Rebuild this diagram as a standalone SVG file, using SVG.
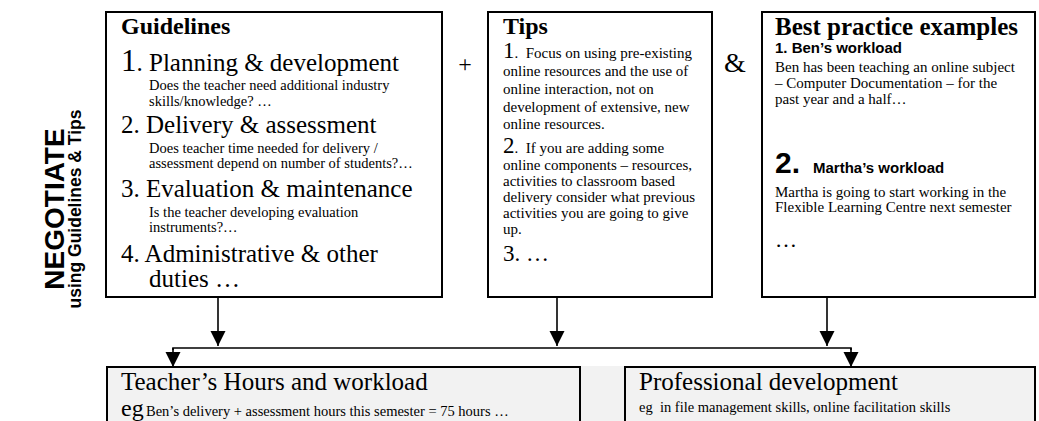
<svg xmlns="http://www.w3.org/2000/svg" width="1039" height="421" viewBox="0 0 1039 421">
<defs>
<style>
.box{fill:#ffffff;stroke:#000000;stroke-width:2}
.gbox{fill:#f2f2f2;stroke:#000000;stroke-width:2}
.serif{font-family:"Liberation Serif","Times New Roman",serif;fill:#000000}
.sans{font-family:"Liberation Sans",Arial,sans-serif;fill:#000000;font-weight:bold}
.title{font-size:24px;font-weight:bold}
.big{font-size:25px}
.sub{font-size:14.5px}
.body{font-size:15px}
.conn{fill:none;stroke:#000000;stroke-width:1.6}
</style>
<marker id="ah" markerWidth="15" markerHeight="16" refX="15" refY="8" orient="auto" markerUnits="userSpaceOnUse">
<path d="M0,0.5 L15,8 L0,15.5 Z" fill="#000000"/>
</marker>
</defs>
<rect width="1039" height="421" fill="#ffffff"/>

<g id="label">
<text class="sans" font-size="28" text-anchor="middle" transform="translate(64,209) rotate(-90)">NEGOTIATE</text>
<text class="sans" font-size="17.5" text-anchor="middle" transform="translate(81,209) rotate(-90)">using Guidelines &amp; Tips</text>
</g>

<g id="guidelines">
<rect class="box" x="106" y="12" width="336" height="285"/>
<text class="serif title" x="121" y="34">Guidelines</text>
<text class="serif big" x="121" y="71"><tspan font-size="31">1</tspan>. Planning &amp; development</text>
<text class="serif sub" x="149" y="90">Does the teacher need additional industry</text>
<text class="serif sub" x="149" y="106">skills/knowledge? …</text>
<text class="serif big" x="121" y="133">2. Delivery &amp; assessment</text>
<text class="serif sub" x="149" y="153">Does teacher time needed for delivery /</text>
<text class="serif sub" x="149" y="168">assessment depend on number of students?…</text>
<text class="serif big" x="121" y="197">3. Evaluation &amp; maintenance</text>
<text class="serif sub" x="149" y="217">Is the teacher developing evaluation</text>
<text class="serif sub" x="149" y="232">instruments?…</text>
<text class="serif big" x="121" y="262">4. Administrative &amp; other</text>
<text class="serif big" x="149" y="287">duties …</text>
</g>

<g id="plus">
<text class="serif" font-size="24" text-anchor="middle" x="465" y="72">+</text>
</g>

<g id="tips">
<rect class="box" x="488" y="12" width="224" height="285"/>
<text class="serif title" x="503" y="34">Tips</text>
<text class="serif body" x="503" y="58"><tspan font-size="23">1</tspan>.&#160; Focus on using pre-existing</text>
<text class="serif body" x="503" y="76">online resources and the use of</text>
<text class="serif body" x="503" y="94">online interaction, not on</text>
<text class="serif body" x="503" y="112">development of extensive, new</text>
<text class="serif body" x="503" y="129">online resources.</text>
<text class="serif body" x="503" y="153"><tspan font-size="23">2</tspan>.&#160; If you are adding some</text>
<text class="serif body" x="503" y="170">online components – resources,</text>
<text class="serif body" x="503" y="186">activities to classroom based</text>
<text class="serif body" x="503" y="202">delivery consider what previous</text>
<text class="serif body" x="503" y="218">activities you are going to give</text>
<text class="serif body" x="503" y="234">up.</text>
<text class="serif" font-size="23" x="503" y="261">3. …</text>
</g>

<g id="amp">
<text class="serif" font-size="28" text-anchor="middle" x="735" y="72">&amp;</text>
</g>

<g id="best">
<rect class="box" x="762" y="12" width="273" height="285"/>
<text class="serif" font-size="25" font-weight="bold" x="775" y="35">Best practice examples</text>
<text class="sans" font-size="15" x="775" y="53">1. Ben’s workload</text>
<text class="serif body" x="775" y="72">Ben has been teaching an online subject</text>
<text class="serif body" x="775" y="88">– Computer Documentation – for the</text>
<text class="serif body" x="775" y="104">past year and a half…</text>
<text class="sans" font-size="30" x="775" y="173">2.</text>
<text class="sans" font-size="15" x="813" y="173">Martha’s workload</text>
<text class="serif body" x="775" y="197">Martha is going to start working in the</text>
<text class="serif body" x="775" y="212">Flexible Learning Centre next semester</text>
<text class="serif" font-size="22" x="775" y="247">…</text>
</g>

<rect x="580" y="366" width="45" height="55" fill="#f2f2f2"/>

<g id="teacher">
<rect class="gbox" x="107" y="367" width="473" height="60"/>
<text class="serif big" x="121" y="390">Teacher’s Hours and workload</text>
<text class="serif" font-size="24" x="121" y="416">eg</text>
<text class="serif sub" x="146" y="416">Ben’s delivery + assessment hours this semester = 75 hours …</text>
</g>

<g id="professional">
<rect class="gbox" x="625" y="367" width="410" height="60"/>
<text class="serif big" x="639" y="390">Professional development</text>
<text class="serif sub" x="639" y="412">eg&#160; in file management skills, online facilitation skills</text>
</g>

<g id="connectors">
<line class="conn" x1="218" y1="297" x2="218" y2="346" marker-end="url(#ah)"/>
<line class="conn" x1="557" y1="297" x2="557" y2="346" marker-end="url(#ah)"/>
<line class="conn" x1="827" y1="297" x2="827" y2="346" marker-end="url(#ah)"/>
<polyline class="conn" stroke-width="2" points="173,350 173,348 851,348 851,350"/>
<line class="conn" x1="173" y1="348" x2="173" y2="367" marker-end="url(#ah)"/>
<line class="conn" x1="851" y1="348" x2="851" y2="367" marker-end="url(#ah)"/>
</g>
</svg>
